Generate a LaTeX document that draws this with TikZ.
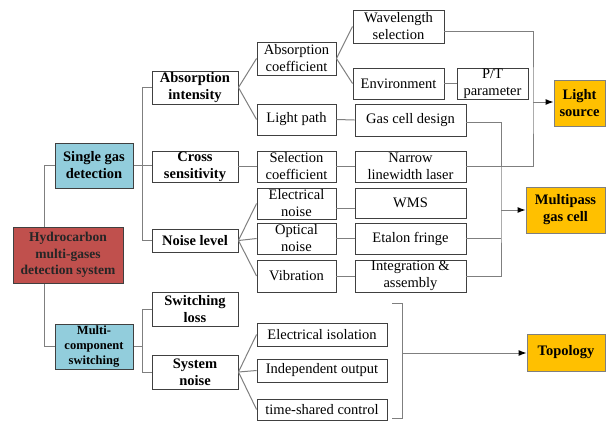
\documentclass[tikz,border=0pt]{standalone}
\usepackage{fontspec}
\setmainfont{Liberation Serif}
\usetikzlibrary{arrows.meta,backgrounds}
\definecolor{boxline}{HTML}{404040}
\definecolor{conn}{HTML}{7F7F7F}
\definecolor{blueFill}{HTML}{92CDDC}
\definecolor{redFill}{HTML}{C0504D}
\definecolor{orangeFill}{HTML}{FFC000}
\tikzset{
  box/.style={draw=boxline, line width=0.9pt, fill=white, inner sep=0pt, align=center,
    font=\fontsize{14.5}{17}\selectfont},
  boldbox/.style={box, font=\fontsize{14.5}{17}\selectfont\bfseries},
  bluebox/.style={boldbox, fill=blueFill},
  orangebox/.style={boldbox, fill=orangeFill, draw=conn},
  link/.style={draw=conn, line width=1pt},
  arrowlink/.style={link, -{Latex[length=8pt,width=6pt,color=black]}},
}
\begin{document}
\begin{tikzpicture}[x=1pt,y=-1pt]
\useasboundingbox (0,0) rectangle (606,421);
% level 0
\node[box, fill=redFill, draw=boxline, minimum width=110pt, minimum height=56pt,
  font=\fontsize{13.5}{16.3}\selectfont\bfseries, text=black!85] (hyd) at (68,255) {Hydrocarbon\\multi-gases\\detection system};
% level 1
\node[bluebox, minimum width=78pt, minimum height=45pt] (sgd) at (94,165.5) {Single gas\\detection};
\node[bluebox, minimum width=78pt, minimum height=45pt, font=\fontsize{12.5}{15}\selectfont\bfseries] (mcs) at (94,346.5) {Multi-\\component\\switching};
% level 2
\node[boldbox, minimum width=86pt, minimum height=33pt] (ai) at (195,87.5) {Absorption\\intensity};
\node[boldbox, minimum width=86pt, minimum height=31pt] (cs) at (195,166.5) {Cross\\sensitivity};
\node[boldbox, minimum width=86pt, minimum height=23pt] (nl) at (195,240.5) {Noise level};
\node[boldbox, minimum width=86pt, minimum height=34pt] (sl) at (195,309) {Switching\\loss};
\node[boldbox, minimum width=86pt, minimum height=34pt] (sn) at (195,372) {System\\noise};
% level 3
\node[box, minimum width=79pt, minimum height=33pt] (ac) at (296.5,58.5) {Absorption\\coefficient};
\node[box, minimum width=79pt, minimum height=31pt] (lp) at (296.5,119.5) {Light path};
\node[box, minimum width=79pt, minimum height=31pt] (sc) at (296.5,166.5) {Selection\\coefficient};
\node[box, minimum width=79pt, minimum height=31pt] (en) at (296.5,203.5) {Electrical\\noise};
\node[box, minimum width=79pt, minimum height=31pt] (on) at (296.5,238.5) {Optical\\noise};
\node[box, minimum width=79pt, minimum height=32pt] (vb) at (296.5,276) {Vibration};
\node[box, minimum width=130pt, minimum height=23pt] (ei) at (322,334.5) {Electrical isolation};
\node[box, minimum width=130pt, minimum height=23pt] (io) at (322,370.5) {Independent output};
\node[box, minimum width=130pt, minimum height=21pt] (tc) at (322,409.5) {time-shared control};
% level 4
\node[box, minimum width=91pt, minimum height=33pt] (ws) at (398.5,26.5) {Wavelength\\selection};
\node[box, minimum width=91pt, minimum height=31pt] (env) at (398.5,83.5) {Environment};
\node[box, minimum width=71pt, minimum height=31pt] (pt) at (492.5,83.5) {P/T\\parameter};
\node[box, minimum width=111pt, minimum height=32pt] (gcd) at (410.5,120) {Gas cell design};
\node[box, minimum width=111pt, minimum height=31pt] (nll) at (410.5,166.5) {Narrow\\linewidth laser};
\node[box, minimum width=111pt, minimum height=30pt] (wms) at (410.5,203) {WMS};
\node[box, minimum width=111pt, minimum height=31pt] (ef) at (410.5,238.5) {Etalon fringe};
\node[box, minimum width=111pt, minimum height=32pt] (ia) at (410.5,276) {Integration \&\\assembly};
% targets
\node[orangebox, minimum width=51pt, minimum height=46pt] (ls) at (579.5,103) {Light\\source};
\node[orangebox, minimum width=79pt, minimum height=46pt] (mgc) at (565.5,210) {Multipass\\gas cell};
\node[orangebox, minimum width=78pt, minimum height=37pt] (top) at (566,352.5) {Topology};
% junction coordinates
\coordinate (jls) at (533,102);
\coordinate (jmg) at (501,210);
\coordinate (bt) at (402,303);
\coordinate (bb) at (402,418);
\coordinate (bm) at (402,353);
\begin{scope}[on background layer]
  \draw[link] (sgd.west) -- ++(-10,0) |- (mcs.west);
  \draw[link] (ai.west) -- ++(-9,0) |- (nl.west);
  \draw[link] (sgd.east) -- (sgd.east -| cs.west);
  \draw[link] (sl.west) -- ++(-9,0) |- (sn.west);
  \draw[link] (mcs.east) -- ++(10,0);
\end{scope}
\draw[link] (ai.east) -- (ac.west);
\draw[link] (ai.east) -- (lp.west);
\draw[link] (ac.east) -- (ws.west);
\draw[link] (ac.east) -- (env.west);
\draw[link] (env.east) -- (pt.west);
\draw[link] (lp.east) -- (gcd.west);
\draw[link] (cs.east) -- (sc.west);
\draw[link] (sc.east) -- (nll.west);
\draw[link] (nl.east) -- (en.west);
\draw[link] (nl.east) -- (on.west);
\draw[link] (nl.east) -- (vb.west);
\draw[link] ([yshift=-4.5pt]en.east) -- ([yshift=-4.5pt]en.east -| wms.west);
\draw[link] (on.east) -- (ef.west);
\draw[link] (vb.east) -- (ia.west);
\draw[link] (sn.east) -- (ei.west);
\draw[link] (sn.east) -- (io.west);
\draw[link] (sn.east) -- (tc.west);
% to light source
\draw[link] ([yshift=-5pt]ws.east) -| (jls) |- (nll.east);
\draw[arrowlink] (jls) -- (jls -| ls.west);
% to multipass gas cell
\draw[link] ([yshift=-2pt]gcd.east) -| (jmg) |- (ia.east);
\draw[link] (ef.east) -- (ef.east -| jmg);
\draw[arrowlink] (jmg) -- (jmg -| mgc.west);
% bracket to topology
\draw[link] ([xshift=-10pt]bt) -- (bt) -- (bb) -- ([xshift=-10pt]bb);
\draw[arrowlink] (bm) -- (bm -| top.west);
\end{tikzpicture}
\end{document}
